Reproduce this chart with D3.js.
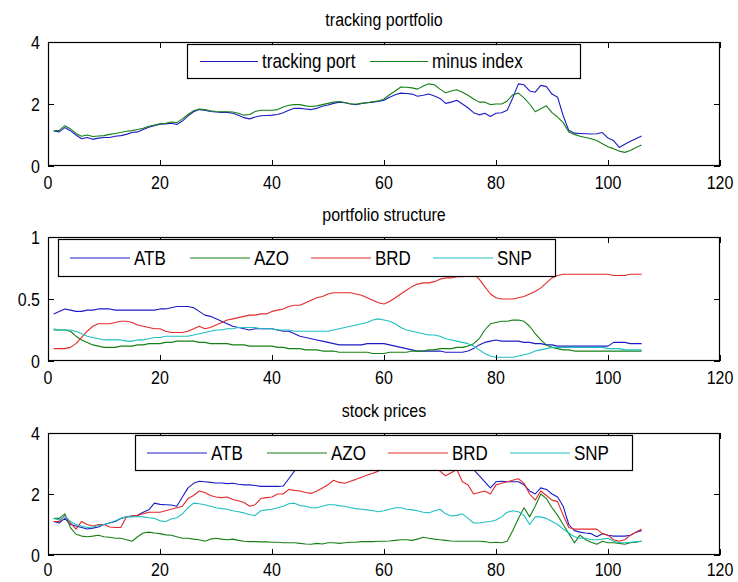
<!DOCTYPE html>
<html>
<head>
<meta charset="utf-8">
<script src="https://cdn.jsdelivr.net/npm/d3@7"></script>
<style>
  html, body { margin: 0; padding: 0; background: #fff; }
  svg text { font-family: "Liberation Sans", Arial, sans-serif; fill: #000; }
</style>
</head>
<body>
<svg id="fig" width="738" height="582"></svg>
<script>
// Period index 1..106
const periods = d3.range(1, 107);

const xTicks = [0, 20, 40, 60, 80, 100, 120];
const yTicksPrice = [0, 2, 4];
const yTicksWeight = [0, 0.5, 1];

// Tracking portfolio vs. index
const trackingPort = [
  1.13,1.10,1.24,1.14,1.00,0.88,0.92,0.86,0.90,0.92,
  0.92,0.96,0.98,1.02,1.08,1.10,1.18,1.25,1.30,1.35,
  1.36,1.38,1.34,1.45,1.62,1.75,1.82,1.80,1.76,1.74,
  1.73,1.73,1.70,1.64,1.56,1.52,1.58,1.62,1.63,1.64,
  1.66,1.72,1.80,1.86,1.86,1.84,1.82,1.86,1.93,1.97,
  2.02,2.06,2.04,2.00,1.98,2.02,2.04,2.06,2.08,2.12,
  2.22,2.30,2.35,2.34,2.32,2.25,2.28,2.32,2.26,2.18,
  2.02,2.06,2.12,2.00,1.88,1.72,1.65,1.70,1.60,1.70,
  1.72,1.80,2.20,2.65,2.62,2.42,2.38,2.60,2.56,2.32,
  2.22,1.62,1.15,1.06,1.05,1.04,1.03,1.04,1.08,0.90,
  0.82,0.60,0.70,0.80,0.88,0.97
];
const minusIndex = [
  1.13,1.15,1.30,1.20,1.05,0.96,1.00,0.95,0.97,0.98,
  1.02,1.05,1.08,1.12,1.14,1.18,1.22,1.28,1.32,1.36,
  1.38,1.42,1.40,1.52,1.66,1.78,1.84,1.82,1.78,1.76,
  1.75,1.75,1.74,1.70,1.64,1.66,1.76,1.80,1.80,1.80,
  1.82,1.90,1.96,1.98,1.98,1.94,1.92,1.94,1.98,2.02,
  2.06,2.08,2.05,2.01,1.99,2.02,2.04,2.07,2.10,2.16,
  2.30,2.42,2.55,2.54,2.52,2.48,2.58,2.65,2.62,2.48,
  2.36,2.42,2.46,2.38,2.28,2.16,2.06,2.06,1.98,2.00,
  2.00,2.10,2.30,2.35,2.20,2.00,1.75,1.85,1.94,1.72,
  1.58,1.40,1.10,1.02,0.96,0.92,0.88,0.82,0.72,0.62,
  0.56,0.48,0.44,0.50,0.60,0.68
];

// Portfolio weights
const wATB = [
  0.38,0.40,0.42,0.41,0.40,0.40,0.41,0.41,0.42,0.42,
  0.42,0.41,0.41,0.41,0.41,0.41,0.41,0.41,0.41,0.42,
  0.42,0.43,0.44,0.44,0.44,0.43,0.40,0.37,0.36,0.34,
  0.32,0.30,0.28,0.27,0.26,0.25,0.26,0.26,0.26,0.26,
  0.25,0.24,0.24,0.22,0.20,0.19,0.18,0.17,0.16,0.15,
  0.14,0.13,0.13,0.13,0.13,0.13,0.14,0.14,0.14,0.14,
  0.13,0.12,0.11,0.10,0.09,0.08,0.08,0.08,0.08,0.08,
  0.07,0.07,0.07,0.07,0.08,0.10,0.13,0.15,0.16,0.17,
  0.16,0.16,0.16,0.16,0.15,0.15,0.14,0.14,0.13,0.13,
  0.12,0.12,0.12,0.12,0.12,0.12,0.12,0.12,0.12,0.12,
  0.15,0.15,0.15,0.14,0.14,0.14
];
const wAZO = [
  0.25,0.25,0.25,0.24,0.20,0.17,0.15,0.13,0.12,0.11,
  0.11,0.11,0.12,0.12,0.12,0.13,0.13,0.14,0.14,0.14,
  0.15,0.15,0.16,0.16,0.16,0.16,0.15,0.15,0.14,0.14,
  0.14,0.14,0.13,0.13,0.13,0.12,0.12,0.12,0.12,0.12,
  0.11,0.11,0.10,0.10,0.10,0.09,0.09,0.09,0.08,0.08,
  0.08,0.07,0.07,0.07,0.07,0.07,0.07,0.06,0.06,0.06,
  0.07,0.07,0.07,0.07,0.08,0.08,0.08,0.09,0.09,0.10,
  0.10,0.10,0.11,0.11,0.12,0.14,0.18,0.25,0.30,0.31,
  0.32,0.32,0.33,0.33,0.32,0.28,0.22,0.17,0.13,0.11,
  0.10,0.09,0.09,0.08,0.08,0.08,0.08,0.08,0.08,0.08,
  0.08,0.08,0.08,0.08,0.08,0.08
];
const wBRD = [
  0.10,0.10,0.10,0.11,0.14,0.19,0.24,0.28,0.30,0.30,
  0.30,0.31,0.32,0.32,0.31,0.29,0.28,0.27,0.26,0.26,
  0.24,0.23,0.23,0.23,0.24,0.26,0.28,0.26,0.27,0.29,
  0.31,0.33,0.34,0.35,0.36,0.37,0.37,0.38,0.38,0.40,
  0.41,0.42,0.44,0.45,0.45,0.47,0.49,0.51,0.52,0.54,
  0.55,0.55,0.55,0.55,0.54,0.53,0.51,0.49,0.47,0.46,
  0.48,0.51,0.54,0.57,0.60,0.62,0.63,0.63,0.64,0.66,
  0.67,0.67,0.68,0.68,0.70,0.70,0.66,0.60,0.54,0.51,
  0.50,0.50,0.50,0.51,0.52,0.54,0.56,0.59,0.63,0.67,
  0.69,0.70,0.70,0.70,0.70,0.70,0.70,0.70,0.70,0.70,
  0.69,0.69,0.69,0.70,0.70,0.70
];
const wSNP = [
  0.26,0.25,0.25,0.25,0.24,0.22,0.20,0.19,0.18,0.17,
  0.17,0.17,0.17,0.16,0.16,0.17,0.17,0.18,0.19,0.19,
  0.20,0.20,0.20,0.20,0.20,0.21,0.22,0.23,0.24,0.25,
  0.25,0.26,0.26,0.27,0.27,0.27,0.27,0.26,0.26,0.26,
  0.25,0.25,0.25,0.24,0.24,0.24,0.24,0.24,0.24,0.24,
  0.25,0.26,0.27,0.28,0.29,0.30,0.31,0.33,0.34,0.33,
  0.32,0.30,0.27,0.25,0.24,0.23,0.22,0.21,0.21,0.20,
  0.18,0.17,0.16,0.15,0.14,0.12,0.09,0.06,0.04,0.03,
  0.03,0.03,0.03,0.04,0.05,0.06,0.08,0.09,0.10,0.11,
  0.11,0.11,0.11,0.11,0.11,0.11,0.11,0.11,0.11,0.10,
  0.10,0.10,0.09,0.09,0.09,0.09
];

// Normalised stock prices
const pATB = [
  1.10,1.05,1.20,1.00,0.95,0.90,0.85,0.88,0.92,1.00,
  1.05,1.10,1.20,1.25,1.28,1.30,1.40,1.48,1.70,1.66,
  1.65,1.64,1.60,1.90,2.20,2.35,2.42,2.40,2.38,2.36,
  2.36,2.34,2.35,2.32,2.30,2.30,2.28,2.25,2.25,2.25,
  2.25,2.26,2.50,2.75,2.95,3.10,3.15,3.20,3.25,3.30,
  3.35,3.30,3.32,3.40,3.45,3.50,3.55,3.60,3.62,3.65,
  3.70,3.68,3.72,3.75,3.70,3.65,3.60,3.55,3.50,3.40,
  3.30,3.20,3.10,3.00,2.90,2.80,2.60,2.40,2.20,2.40,
  2.42,2.40,2.40,2.40,2.30,2.10,2.00,2.20,2.15,2.00,
  1.90,1.60,1.00,0.80,0.75,0.72,0.70,0.60,0.70,0.65,
  0.62,0.62,0.62,0.65,0.75,0.80
];
const pAZO = [
  1.20,1.20,1.35,0.90,0.68,0.62,0.60,0.62,0.65,0.60,
  0.58,0.55,0.55,0.50,0.45,0.60,0.72,0.75,0.72,0.70,
  0.66,0.65,0.60,0.55,0.55,0.52,0.50,0.45,0.52,0.55,
  0.52,0.50,0.52,0.48,0.45,0.44,0.44,0.43,0.43,0.42,
  0.42,0.40,0.40,0.40,0.38,0.36,0.35,0.38,0.36,0.40,
  0.40,0.38,0.40,0.42,0.42,0.44,0.44,0.44,0.45,0.45,
  0.46,0.48,0.50,0.50,0.48,0.52,0.58,0.55,0.52,0.50,
  0.48,0.46,0.45,0.45,0.45,0.45,0.45,0.44,0.40,0.42,
  0.40,0.45,0.80,1.20,1.55,1.25,1.60,2.00,1.85,1.55,
  1.30,1.00,0.70,0.40,0.65,0.50,0.42,0.35,0.45,0.40,
  0.40,0.38,0.35,0.40,0.42,0.45
];
const pBRD = [
  1.10,1.10,1.30,1.05,0.85,1.10,1.00,0.95,1.00,1.00,
  0.92,0.90,0.90,1.25,1.28,1.30,1.35,1.40,1.40,1.40,
  1.45,1.50,1.55,1.60,1.85,1.95,2.10,2.05,1.95,1.90,
  1.88,1.90,1.82,1.78,1.72,1.60,1.65,1.85,1.88,1.90,
  2.00,2.00,2.15,2.12,2.10,2.05,2.02,2.10,2.20,2.30,
  2.45,2.38,2.35,2.42,2.48,2.55,2.62,2.68,2.75,2.85,
  2.95,3.00,3.05,3.10,3.05,3.00,2.95,2.90,2.85,2.75,
  2.60,2.70,2.80,2.40,2.30,2.00,2.05,2.10,2.00,2.30,
  2.35,2.40,2.45,2.50,2.35,2.00,1.80,2.10,1.95,1.80,
  1.75,1.30,0.90,0.85,0.85,0.85,0.85,0.85,0.70,0.65,
  0.50,0.45,0.50,0.65,0.75,0.85
];
const pSNP = [
  1.20,1.15,1.28,1.10,1.00,0.95,0.90,0.92,0.96,1.00,
  1.05,1.12,1.20,1.25,1.25,1.26,1.25,1.22,1.20,1.12,
  1.10,1.18,1.22,1.35,1.55,1.70,1.68,1.65,1.60,1.55,
  1.52,1.50,1.45,1.42,1.38,1.32,1.30,1.45,1.48,1.50,
  1.55,1.60,1.68,1.70,1.62,1.60,1.55,1.55,1.60,1.65,
  1.65,1.62,1.60,1.55,1.52,1.50,1.48,1.45,1.42,1.45,
  1.50,1.55,1.55,1.50,1.48,1.45,1.40,1.38,1.45,1.50,
  1.35,1.28,1.30,1.35,1.20,1.05,1.05,1.08,1.10,1.15,
  1.25,1.40,1.45,1.42,1.30,1.00,1.25,1.25,1.20,1.10,
  1.00,0.85,0.72,0.60,0.55,0.55,0.50,0.50,0.52,0.55,
  0.45,0.40,0.40,0.42,0.44,0.45
];

const stockNames = ["ATB", "AZO", "BRD", "SNP"];
const trackNames = ["tracking port", "minus index"];

const BLUE = "#1c1cc4", GREEN = "#168016", RED = "#e42a2a", CYAN = "#1ec0c0";

const panels = [
  {
    title: "tracking portfolio", top: 42, bottom: 166, yMax: 4, yTicks: yTicksPrice,
    series: [trackingPort, minusIndex], names: trackNames, colors: [BLUE, GREEN],
    legend: { x: 187, y: 44, w: 393, h: 34, lineLen: 58, items: [200, 370] }
  },
  {
    title: "portfolio structure", top: 237, bottom: 361, yMax: 1, yTicks: yTicksWeight,
    series: [wATB, wAZO, wBRD, wSNP], names: stockNames, colors: [BLUE, GREEN, RED, CYAN],
    legend: { x: 58, y: 239, w: 497, h: 37, lineLen: 60, items: [70, 190, 311, 433] }
  },
  {
    title: "stock prices", top: 433, bottom: 555, yMax: 4, yTicks: yTicksPrice,
    series: [pATB, pAZO, pBRD, pSNP], names: stockNames, colors: [BLUE, GREEN, RED, CYAN],
    legend: { x: 135, y: 435, w: 497, h: 35, lineLen: 60, items: [147, 267, 388, 510] }
  }
];

const svg = d3.select("#fig");
const left = 48, right = 720;
const x = d3.scaleLinear().domain([0, 120]).range([left, right]);
const tickLen = 6;
const fs = 16;
const stretch = 1.14;   // tall, narrow lettering

// Draw text stretched vertically about its own anchor point.
function tallText(parent, tx, ty, str, anchor, size) {
  return parent.append("text")
    .attr("transform", `translate(${tx},${ty}) scale(1,${stretch})`)
    .attr("text-anchor", anchor)
    .attr("dy", "0.35em")
    .attr("font-size", size)
    .text(str);
}

panels.forEach((p, idx) => {
  const y = d3.scaleLinear().domain([0, p.yMax]).range([p.bottom, p.top]);
  const g = svg.append("g");

  tallText(g, (left + right) / 2, p.top - 22, p.title, "middle", fs);

  const clipId = "clip" + p.top;
  svg.append("clipPath").attr("id", clipId)
    .append("rect").attr("x", left).attr("y", p.top).attr("width", right - left).attr("height", p.bottom - p.top);

  const line = d3.line().x((d, i) => x(periods[i])).y(d => y(d));
  const lines = g.append("g").attr("clip-path", `url(#${clipId})`);
  p.series.forEach((s, k) => {
    lines.append("path")
      .datum(s)
      .attr("d", line)
      .attr("fill", "none")
      .attr("stroke", p.colors[k])
      .attr("stroke-width", 1.1)
      .attr("stroke-linejoin", "round");
  });

  // inside ticks on all four sides, labels bottom and left
  const fmtY = p.yMax === 1 ? (d => d === 0.5 ? "0.5" : d3.format("d")(d)) : d3.format("d");
  const axB = d3.axisBottom(x).tickValues(xTicks).tickSize(-tickLen).tickFormat("");
  const axT = d3.axisTop(x).tickValues(xTicks).tickSize(-tickLen).tickFormat("");
  const axL = d3.axisLeft(y).tickValues(p.yTicks).tickSize(-tickLen).tickFormat("");
  const axR = d3.axisRight(y).tickValues(p.yTicks).tickSize(-tickLen).tickFormat("");
  const style = sel => {
    sel.select(".domain").remove();
    sel.selectAll("line").attr("stroke", "#000");
    sel.selectAll("text").remove();
  };
  g.append("g").attr("transform", `translate(0,${p.bottom})`).call(axB).call(style);
  g.append("g").attr("transform", `translate(0,${p.top})`).call(axT).call(style);
  g.append("g").attr("transform", `translate(${left},0)`).call(axL).call(style);
  g.append("g").attr("transform", `translate(${right},0)`).call(axR).call(style);

  const labelGap = idx === panels.length - 1 ? 15 : 17;
  xTicks.forEach(t => tallText(g, x(t), p.bottom + labelGap, d3.format("d")(t), "middle", fs));
  p.yTicks.forEach(t => tallText(g, left - 8, y(t) + 1, fmtY(t), "end", fs));

  // axes frame
  g.append("rect")
    .attr("x", left + 0.5).attr("y", p.top + 0.5)
    .attr("width", right - left - 1).attr("height", p.bottom - p.top - 1)
    .attr("fill", "none").attr("stroke", "#000").attr("stroke-width", 1.2);

  // legend
  const L = p.legend;
  const lg = g.append("g");
  lg.append("rect")
    .attr("x", L.x + 0.5).attr("y", L.y + 0.5).attr("width", L.w).attr("height", L.h)
    .attr("fill", "#fff").attr("stroke", "#000").attr("stroke-width", 1.2);
  const cy = L.y + L.h / 2 + 0.5;
  p.names.forEach((name, k) => {
    const lx = L.items[k];
    lg.append("line")
      .attr("x1", lx).attr("x2", lx + L.lineLen)
      .attr("y1", cy).attr("y2", cy)
      .attr("stroke", p.colors[k]).attr("stroke-width", 1.1);
    tallText(lg, lx + L.lineLen + 4, cy, name, "start", fs + 1);
  });
});
</script>
</body>
</html>
